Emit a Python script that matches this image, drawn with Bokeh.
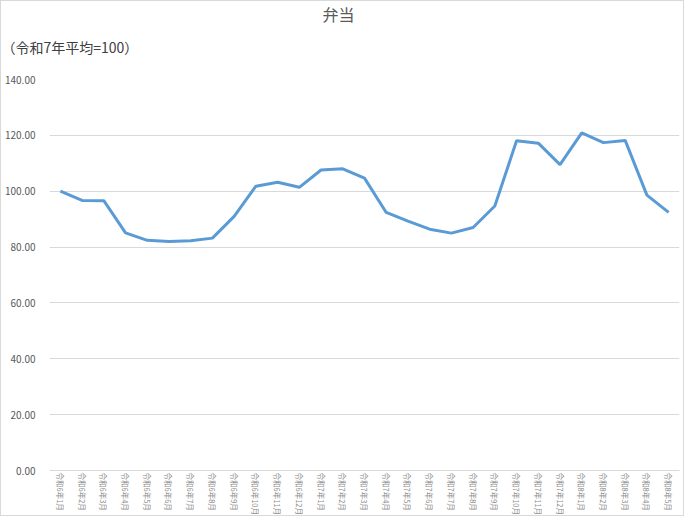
from bokeh.plotting import figure
from bokeh.models import Title, NumeralTickFormatter, FactorRange, SingleIntervalTicker
from bokeh.embed import file_html
from bokeh.resources import INLINE

months = (
    [f"令和6年{m}月" for m in range(1, 13)]
    + [f"令和7年{m}月" for m in range(1, 13)]
    + [f"令和8年{m}月" for m in range(1, 6)]
)
values = [100.0, 96.7, 96.6, 85.1, 82.4, 82.0, 82.3, 83.2, 91.0, 101.8, 103.2, 101.4,
          107.6, 108.0, 104.7, 92.4, 89.3, 86.4, 85.0, 87.0, 94.7, 118.1, 117.2, 109.5,
          120.9, 117.4, 118.2, 98.6, 92.4]
title_text = "弁当"
subtitle_text = "（令和7年平均=100）"

FONT = "Noto Sans CJK JP"

p = figure(width=684, height=516, x_range=FactorRange(*months), y_range=(0, 140),
           output_backend="svg", toolbar_location=None, title=None,
           min_border_left=44, min_border_right=6, min_border_top=78, min_border_bottom=42)
p.x_range.range_padding = 0
p.x_range.factor_padding = 0

p.line(months, values, line_color="#5B9BD5", line_width=3)

p.outline_line_color = None
p.background_fill_color = "white"
p.border_fill_color = "white"

p.yaxis.ticker = SingleIntervalTicker(interval=20)
p.yaxis.formatter = NumeralTickFormatter(format="0.00")
p.yaxis.axis_line_color = None
p.yaxis.major_tick_line_color = None
p.yaxis.minor_tick_line_color = None
p.yaxis.major_tick_out = 0
p.yaxis.major_tick_in = 0
p.yaxis.major_label_text_font = FONT
p.yaxis.major_label_text_font_size = "10px"
p.yaxis.major_label_text_color = "#595959"
p.yaxis.major_label_standoff = 10

p.xaxis.axis_line_color = "#d9d9d9"
p.xaxis.major_tick_line_color = None
p.xaxis.minor_tick_line_color = None
p.xaxis.major_tick_out = 0
p.xaxis.major_tick_in = 0
p.xaxis.major_label_orientation = "vertical"
p.xaxis.major_label_text_font = FONT
p.xaxis.major_label_text_font_size = "7.5px"
p.xaxis.major_label_text_color = "#8c8c8c"
p.xaxis.major_label_standoff = 2

p.xgrid.grid_line_color = None
p.ygrid.grid_line_color = "#d9d9d9"
p.ygrid.grid_line_width = 1

p.add_layout(Title(text=subtitle_text, align="left", offset=-48, standoff=46,
                   text_font=FONT, text_font_size="14px", text_color="#404040",
                   text_font_style="normal"), "above")
p.add_layout(Title(text=title_text, align="left", offset=273, standoff=-28,
                   text_font=FONT, text_font_size="16px", text_color="#595959",
                   text_font_style="normal"), "above")

p.styles = {"border": "1px solid #d9d9d9"}

open("out.html", "w").write(file_html(p, INLINE))
